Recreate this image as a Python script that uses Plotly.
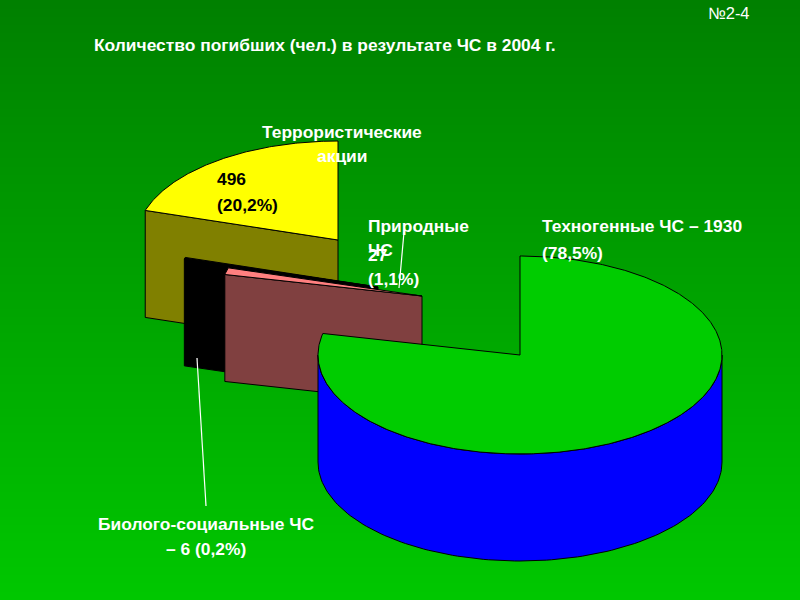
import numpy as np
import plotly.graph_objects as go

categories = ["Техногенные ЧС", "Природные ЧС", "Биолого-социальные ЧС", "Террористические акции"]
values = [1930, 27, 6, 496]

top_colors = ["#00CC00", "#FF8080", "#000000", "#FFFF00"]
face_colors = ["#0000FF", "#804040", "#000000", "#808000"]
rim_colors = ["#0000FF", "#804040", "#000000", "#808000"]
apex_x = [520, 422, 378, 338]
apex_y = [355, 296, 287, 240]
draw_order = [3, 2, 1, 0]
RX, RY, DEPTH = 202, 99, 107

fracs = np.array(values) / sum(values)
ends = np.cumsum(fracs) * 360
starts = ends - fracs * 360

def pt(i, deg):
    r = np.radians(deg)
    return apex_x[i] + RX * np.sin(r), apex_y[i] - RY * np.cos(r)

def poly(xs, ys, fill):
    return go.Scatter(x=list(xs) + [xs[0]], y=list(ys) + [ys[0]], mode="lines", fill="toself",
                      fillcolor=fill, line=dict(color="#000000", width=1),
                      hoverinfo="skip", showlegend=False)

fig = go.Figure()
for i in draw_order:
    a0, a1 = starts[i], ends[i]
    # cut face
    if 180 < a0 < 360:
        px, py = pt(i, a0)
        fig.add_trace(poly([px, apex_x[i], apex_x[i], px],
                           [py, apex_y[i], apex_y[i] + DEPTH, py + DEPTH], face_colors[i]))
    # outer rim
    lo, hi = max(a0, 90), min(a1, 270)
    if hi > lo:
        t = np.linspace(lo, hi, 121)
        X, Y = pt(i, t)
        fig.add_trace(poly(list(X) + list(X[::-1]), list(Y) + list((Y + DEPTH)[::-1]), rim_colors[i]))
    # top
    t = np.linspace(a0, a1, max(int(a1 - a0) * 2, 3))
    X, Y = pt(i, t)
    fig.add_trace(poly([apex_x[i]] + list(X), [apex_y[i]] + list(Y), top_colors[i]))

# leader lines
for lx, ly in [([404, 399], [232, 288]), ([197, 206], [358, 506])]:
    fig.add_trace(go.Scatter(x=lx, y=ly, mode="lines", line=dict(color="#FFFFFF", width=1.2),
                             hoverinfo="skip", showlegend=False))

# gradient background
bands = 72
shapes = []
for k in range(bands):
    g = 128 + k
    shapes.append(dict(type="rect", xref="x", yref="y", layer="below",
                       x0=0, x1=800, y0=k * 600 / bands, y1=(k + 1) * 600 / bands + 1,
                       fillcolor=f"rgb(0,{g},0)", line=dict(width=0)))

S = 17.4
texts = [
    ("Количество погибших (чел.) в результате ЧС в 2004 г.", 92, 45, "left", "#FFFFFF", S, True),
    ("№2-4", 706, 13, "left", "#FFFFFF", 16.5, False),
    ("Террористические", 342, 132, "center", "#FFFFFF", S, True),
    ("акции", 342, 156, "center", "#FFFFFF", S, True),
    ("496", 215, 179, "left", "#000000", S, True),
    ("(20,2%)", 215, 205, "left", "#000000", S, True),
    ("Природные", 366, 226, "left", "#FFFFFF", S, True),
    ("ЧС", 366, 250, "left", "#FFFFFF", S, True),
    ("27", 366, 255, "left", "#FFFFFF", S, True),
    ("(1,1%)", 366, 279, "left", "#FFFFFF", S, True),
    ("Техногенные ЧС – 1930", 540, 226, "left", "#FFFFFF", S, True),
    ("(78,5%)", 540, 253, "left", "#FFFFFF", S, True),
    ("Биолого-социальные ЧС", 206, 524, "center", "#FFFFFF", S, True),
    ("– 6 (0,2%)", 206, 549, "center", "#FFFFFF", S, True),
]
annotations = [dict(x=x, y=y, xref="x", yref="y", text=f"<b>{s}</b>" if b else s, showarrow=False,
                    xanchor=a, yanchor="middle", font=dict(family="Liberation Sans", size=sz, color=c))
               for s, x, y, a, c, sz, b in texts]

fig.update_layout(width=800, height=600, margin=dict(l=0, r=0, t=0, b=0),
                  paper_bgcolor="#008000", plot_bgcolor="#008000",
                  shapes=shapes, annotations=annotations,
                  xaxis=dict(range=[0, 800], visible=False, fixedrange=True),
                  yaxis=dict(range=[600, 0], visible=False, fixedrange=True))

fig.write_html("out.html", config={"displayModeBar": False},
               post_script="document.body.style.margin='0';document.documentElement.style.overflow='hidden';")
